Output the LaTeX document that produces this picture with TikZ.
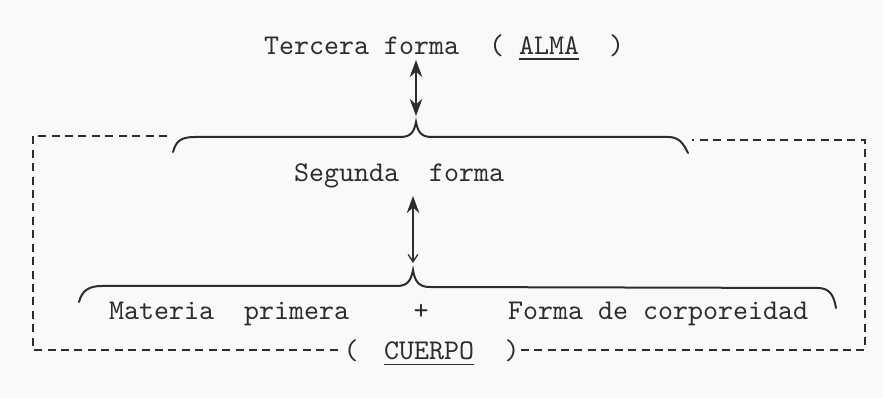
\documentclass[tikz,border=0pt]{standalone}
\usepackage{tikz}
\usetikzlibrary{arrows.meta}
\definecolor{paper}{RGB}{248,249,250}
\definecolor{ink}{RGB}{45,45,45}

\begin{document}
\begin{tikzpicture}[
    x=0.35pt, y=-0.35pt,          % one unit = one pixel of the scan
    >=Stealth,
    thick,
    txt/.style={font=\ttfamily, text=ink, inner sep=0pt},
    brace/.style={draw=ink, line width=0.7pt, line cap=round},
    dashbox/.style={draw=ink, line width=0.55pt, dash pattern=on 2.8pt off 1.9pt},
    link/.style={draw=ink, line width=0.6pt}
  ]

  % --- PAPER ---
  \fill[paper] (0,0) rectangle (883,398);
  \useasboundingbox (0,0) rectangle (883,398);

  % --- TEXTS ---
  \node[txt, anchor=base west] (tercera) at (263,55) {Tercera forma~~( \underline{ALMA}~~)};
  \node[txt, anchor=base west] (segunda) at (293,182) {Segunda~~forma};
  \node[txt, anchor=base west] (materia) at (108,320) {Materia~~primera};
  \node[txt, anchor=base] (plus) at (421,320) {+};
  \node[txt, anchor=base west] (corporeidad) at (507,320) {Forma de corporeidad};
  \node[txt, anchor=base] (lparen) at (351,360) {(};
  \node[txt, anchor=base west] (cuerpo) at (383,360) {\underline{CUERPO}};
  \node[txt, anchor=base] (rparen) at (512,360) {)};

  % --- BRACE POINTS ---
  \coordinate (upL) at (173,152);
  \coordinate (upTip) at (416,122);
  \coordinate (upR) at (688,153);
  \coordinate (loL) at (79,302);
  \coordinate (loTip) at (413,270);
  \coordinate (loR) at (836,308);

  % --- BRACES ---
  \draw[brace] (upL) .. controls (176,141) and (181,137) .. (195,137)
    -- (400,137) .. controls (410,137) and (414,133) .. (upTip)
    .. controls (418,133) and (422,137) .. (432,137)
    -- (668,137) .. controls (679,137) and (683,143) .. (upR);
  \draw[brace] (loL) .. controls (82,291) and (88,286) .. (102,286)
    -- (397,286) .. controls (407,286) and (411,281) .. (loTip)
    .. controls (415,282) and (419,287) .. (430,287)
    -- (818,288) .. controls (830,288) and (834,296) .. (loR);

  % --- ARROWS ---
  \coordinate (terceraFoot) at (416,60);
  \coordinate (segundaFoot) at (413,196);
  \coordinate (loTop) at (413,263);
  \draw[link, {Stealth[length=6pt,width=4.4pt]}-{Stealth[length=6pt,width=4.4pt]}] (terceraFoot) -- (upTip |- 0,116);
  \draw[link, line width=0.45pt, {Stealth[length=6pt,width=4.4pt]}-{Straight Barb[length=2.6pt,width=3.4pt]}] (segundaFoot) -- (loTop);

  % --- DASHED FRAME (CUERPO) ---
  \coordinate (boxTL) at (33,136);
  \coordinate (boxBL) at (33,350);
  \coordinate (boxBR) at (865,350);
  \coordinate (boxTR) at (865,140);
  \draw[dashbox] (167,136) -- (boxTL) -- (boxBL) -- (lparen.west |- boxBL);
  \draw[dashbox] (rparen.east |- boxBR) -- (boxBR) -- (boxTR) -- (692,140);

\end{tikzpicture}
\end{document}
